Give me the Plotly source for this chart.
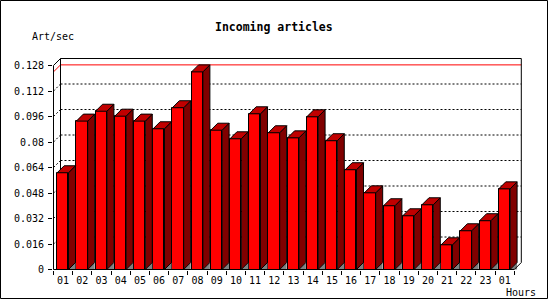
import plotly.graph_objects as go

# ---------------- data ----------------
hours = ["01", "02", "03", "04", "05", "06", "07", "08", "09", "10", "11", "12",
         "13", "14", "15", "16", "17", "18", "19", "20", "21", "22", "23", "01"]
art_per_sec = [0.0607, 0.0931, 0.0993, 0.0962, 0.0931, 0.0883, 0.1015, 0.1240,
               0.0874, 0.0820, 0.0977, 0.0858, 0.0826, 0.0958, 0.0808, 0.0626,
               0.0481, 0.0400, 0.0337, 0.0406, 0.0155, 0.0243, 0.0306, 0.0506]
ytick_vals = [0, 0.016, 0.032, 0.048, 0.064, 0.08, 0.096, 0.112, 0.128]
ytick_text = ["0", "0.016", "0.032", "0.048", "0.064", "0.08", "0.096", "0.112", "0.128"]
title_text = "Incoming articles"
y_title = "Art/sec"
x_title = "Hours"

# ---------------- geometry / style ----------------
FIG_W, FIG_H = 550, 300
ML, MR, MT, MB = 53, 27, 58, 30
PW = FIG_W - ML - MR
PH = FIG_H - MT - MB
U = 19.2            # px per category
S = 25.5 / 0.016    # px per unit value
DEPTH = 7           # px depth of 3D effect
D = DEPTH / U
E = DEPTH / S
YTOP = ytick_vals[-1]
N = len(hours)
x_min = -0.5 - 0.5 / U
x_max = x_min + PW / U
y_min = -0.5 / S
y_max = y_min + PH / S
BAR_OFF = 0.19
BAR_W = 0.59

FRONT = "#FF0000"
TOP = "#C00000"
SIDE = "#800000"
FLOOR = "#808080"
MONO = "DejaVu Sans Mono"

def px_to_paper_x(px):
    return (px - ML) / PW

def px_to_paper_y(py):
    return (FIG_H - MB - py) / PH

xs = list(range(N))
lefts = [x - 0.5 + BAR_OFF for x in xs]
rights = [l + BAR_W for l in lefts]

fig = go.Figure()

# front faces
fig.add_trace(go.Bar(
    x=xs, y=art_per_sec, width=BAR_W, offset=BAR_OFF - 0.5,
    marker=dict(color=FRONT, line=dict(color="black", width=1)),
    hoverinfo="skip", showlegend=False))

# floor shadows, side faces, top faces
shx, shy, sdx, sdy, tpx, tpy = [], [], [], [], [], []
for l, r, v in zip(lefts, rights, art_per_sec):
    shx += [r, r + D, r + D, r, None]
    shy += [0, E, 0, 0, None]
    sdx += [r, r, r + D, r + D, r, None]
    sdy += [0, v, v + E, E, 0, None]
    tpx += [l, r, r + D, l + D, l, None]
    tpy += [v, v, v + E, v + E, v, None]

fig.add_trace(go.Scatter(x=shx, y=shy, mode="lines", fill="toself", fillcolor=FLOOR,
                         line=dict(width=0, color=FLOOR), hoverinfo="skip", showlegend=False))
fig.add_trace(go.Scatter(x=sdx, y=sdy, mode="lines", fill="toself", fillcolor=SIDE,
                         line=dict(width=1, color="black"), hoverinfo="skip", showlegend=False))
fig.add_trace(go.Scatter(x=tpx, y=tpy, mode="lines", fill="toself", fillcolor=TOP,
                         line=dict(width=1, color="black"), hoverinfo="skip", showlegend=False))

# front frame lines (on top)
fx = [-0.5 + D, -0.5, -0.5, N - 0.5, N - 0.5 + D]
fy = [YTOP + E, YTOP, 0, 0, E]
fig.add_trace(go.Scatter(x=fx, y=fy, mode="lines", line=dict(width=1, color="black"),
                         hoverinfo="skip", showlegend=False))

shapes = []
# dotted grid on back wall with slanted connectors
for v in ytick_vals[1:-1]:
    shapes.append(dict(type="line", xref="x", yref="y", layer="below",
                       x0=-0.5 + D, y0=v + E, x1=N - 0.5 + D, y1=v + E,
                       line=dict(color="black", width=1, dash="2px,2px")))
    shapes.append(dict(type="line", xref="x", yref="y", layer="below",
                       x0=-0.5, y0=v, x1=-0.5 + D, y1=v + E,
                       line=dict(color="black", width=1, dash="2px,2px")))
# max line (red)
vmax = max(art_per_sec)
shapes.append(dict(type="line", xref="x", yref="y", layer="below",
                   x0=-0.5 + D, y0=vmax + E, x1=N - 0.5 + D, y1=vmax + E,
                   line=dict(color="#FF0000", width=1)))
shapes.append(dict(type="line", xref="x", yref="y", layer="below",
                   x0=-0.5, y0=vmax, x1=-0.5 + D, y1=vmax + E,
                   line=dict(color="#FF0000", width=1)))
# back wall frame
shapes.append(dict(type="path", xref="x", yref="y", layer="below",
                   path=f"M {-0.5 + D} {E} L {-0.5 + D} {YTOP + E} L {N - 0.5 + D} {YTOP + E} L {N - 0.5 + D} {E}",
                   line=dict(color="black", width=1)))
# outer border of the image
shapes.append(dict(type="rect", xref="paper", yref="paper",
                   x0=px_to_paper_x(0.5), x1=px_to_paper_x(547.5),
                   y0=px_to_paper_y(298.5), y1=px_to_paper_y(0.5),
                   line=dict(color="black", width=1), fillcolor="rgba(0,0,0,0)"))

annotations = [
    dict(text=f"<b>{title_text}</b>", xref="paper", yref="paper",
         x=px_to_paper_x(274), y=px_to_paper_y(27), xanchor="center", yanchor="middle",
         showarrow=False, font=dict(family=MONO, size=11.5, color="black")),
    dict(text=y_title, xref="paper", yref="paper",
         x=px_to_paper_x(30), y=px_to_paper_y(37), xanchor="left", yanchor="middle",
         showarrow=False, font=dict(family=MONO, size=10, color="black")),
    dict(text=x_title, xref="paper", yref="paper",
         x=px_to_paper_x(504), y=px_to_paper_y(292), xanchor="left", yanchor="middle",
         showarrow=False, font=dict(family=MONO, size=10, color="black")),
]

fig.update_layout(
    width=FIG_W, height=FIG_H,
    margin=dict(l=ML, r=MR, t=MT, b=MB, pad=0),
    paper_bgcolor="white", plot_bgcolor="white",
    showlegend=False, bargap=0,
    shapes=shapes, annotations=annotations,
    xaxis=dict(range=[x_min, x_max], tickmode="array", tickvals=xs, ticktext=hours,
               ticks="", showgrid=False, zeroline=False, showline=False,
               ticklabelstandoff=3,
               tickfont=dict(family=MONO, size=10, color="black"),
               minor=dict(tickmode="array", tickvals=[x - 0.5 for x in range(N + 1)],
                          ticks="outside", ticklen=4, tickcolor="black", tickwidth=1,
                          showgrid=False),
               fixedrange=True),
    yaxis=dict(range=[y_min, y_max], tickmode="array", tickvals=ytick_vals, ticktext=ytick_text,
               ticks="outside", ticklen=4, tickcolor="black", tickwidth=1,
               showgrid=False, zeroline=False, showline=False,
               ticklabelstandoff=2,
               tickfont=dict(family=MONO, size=10, color="black"),
               fixedrange=True),
)

fig.write_html("out.html", config={"displayModeBar": False})
